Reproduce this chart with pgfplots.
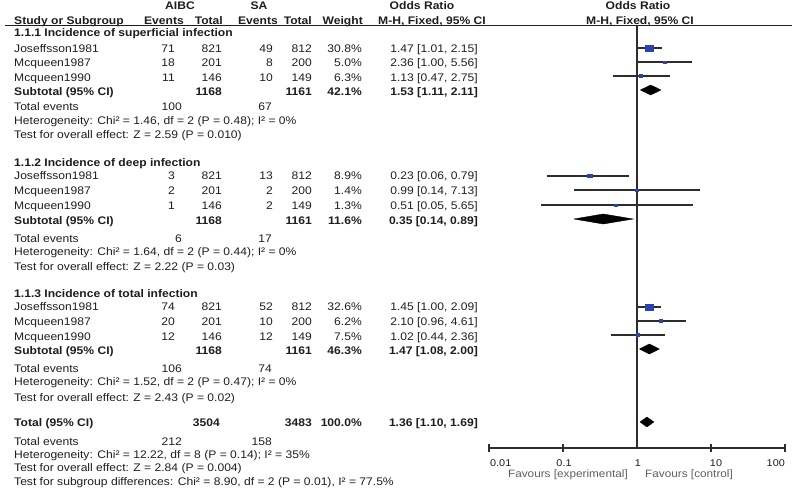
\documentclass[border=0pt]{standalone}
\usepackage{pgfplots}
\pgfplotsset{compat=1.18}
\usepackage{fontspec}
\setmainfont{Liberation Sans}[FakeStretch=1.1]
\definecolor{txt}{RGB}{30,30,30}
\definecolor{sq}{RGB}{45,65,175}
\definecolor{ln}{RGB}{45,45,45}
\definecolor{fav}{RGB}{95,95,95}

\newcommand{\TL}[3]{\node[anchor=base west,inner sep=0pt] at (#1,{-(#2)-4}) {#3};}
\newcommand{\TR}[3]{\node[anchor=base east,inner sep=0pt] at (#1,{-(#2)-4}) {#3};}
\newcommand{\TC}[3]{\node[anchor=base,inner sep=0pt] at (#1,{-(#2)-4}) {#3};}
% y name e1 t1 e2 t2 weight or
\newcommand{\Row}[8]{\TL{14}{#1}{#2}\TR{175}{#1}{#3}\TR{222}{#1}{#4}\TR{273}{#1}{#5}\TR{312}{#1}{#6}\TR{362}{#1}{#7}\TR{478}{#1}{#8}}
\newcommand{\Sub}[6]{\TL{14}{#1}{\bfseries #2}\TR{222}{#1}{\bfseries #3}\TR{312}{#1}{\bfseries #4}\TR{362}{#1}{\bfseries #5}\TR{478}{#1}{\bfseries #6}}
\newcommand{\Tev}[3]{\TL{14}{#1}{Total events}\TR{182}{#1}{#2}\TR{272}{#1}{#3}}

% plot helpers (values through the axis)
\newcommand{\CI}[3]{\addplot[ln, line width=1.1pt] coordinates {(#1,-#3) (#2,-#3)};}
\newcommand{\SQ}[3]{\addplot[only marks, mark=square*, mark size=#3, mark options={fill=sq,draw=sq,xscale=1.3}] coordinates {(#1,-#2)};}
% or lo hi y ytop ybot (negative numbers given)
\newcommand{\DM}[6]{\addplot[fill=black,draw=black] coordinates {(#2,#4) (#1,#5) (#3,#4) (#1,#6) (#2,#4)};}

\begin{document}
\begin{tikzpicture}[x=1pt,y=1pt,font=\fontsize{11}{12}\selectfont,text=txt]
\useasboundingbox (0,0) rectangle (800,-489);

% headers
\TC{180}{6}{\bfseries AIBC}
\TC{259}{6}{\bfseries SA}
\TC{422}{6}{\bfseries Odds Ratio}
\TC{638}{6}{\bfseries Odds Ratio}
\TL{14}{21}{\bfseries Study or Subgroup}
\TR{184}{21}{\bfseries Events}
\TR{223}{21}{\bfseries Total}
\TR{278}{21}{\bfseries Events}
\TR{312}{21}{\bfseries Total}
\TR{363}{21}{\bfseries Weight}
\TC{432}{21}{\bfseries M-H, Fixed, 95\% CI}
\TC{640}{21}{\bfseries M-H, Fixed, 95\% CI}
\draw[line width=0.9pt, txt] (5,-25) -- (792,-25);

% section 1
\TL{14}{33}{\bfseries 1.1.1 Incidence of superficial infection}
\Row{49}{Joseffsson1981}{71}{821}{49}{812}{30.8\%}{1.47 [1.01, 2.15]}
\Row{63}{Mcqueen1987}{18}{201}{8}{200}{5.0\%}{2.36 [1.00, 5.56]}
\Row{78}{Mcqueen1990}{11}{146}{10}{149}{6.3\%}{1.13 [0.47, 2.75]}
\Sub{92}{Subtotal (95\% CI)}{1168}{1161}{42.1\%}{1.53 [1.11, 2.11]}
\Tev{107}{100}{67}
\TL{14}{121}{Heterogeneity: Chi² = 1.46, df = 2 (P = 0.48); I² = 0\%}
\TL{14}{135}{Test for overall effect: Z = 2.59 (P = 0.010)}

% section 2
\TL{14}{163}{\bfseries 1.1.2 Incidence of deep infection}
\Row{176}{Joseffsson1981}{3}{821}{13}{812}{8.9\%}{0.23 [0.06, 0.79]}
\Row{191}{Mcqueen1987}{2}{201}{2}{200}{1.4\%}{0.99 [0.14, 7.13]}
\Row{206}{Mcqueen1990}{1}{146}{2}{149}{1.3\%}{0.51 [0.05, 5.65]}
\Sub{220}{Subtotal (95\% CI)}{1168}{1161}{11.6\%}{0.35 [0.14, 0.89]}
\Tev{238}{6}{17}
\TL{14}{251}{Heterogeneity: Chi² = 1.64, df = 2 (P = 0.44); I² = 0\%}
\TL{14}{266}{Test for overall effect: Z = 2.22 (P = 0.03)}

% section 3
\TL{14}{293}{\bfseries 1.1.3 Incidence of total infection}
\Row{306}{Joseffsson1981}{74}{821}{52}{812}{32.6\%}{1.45 [1.00, 2.09]}
\Row{321}{Mcqueen1987}{20}{201}{10}{200}{6.2\%}{2.10 [0.96, 4.61]}
\Row{336}{Mcqueen1990}{12}{146}{12}{149}{7.5\%}{1.02 [0.44, 2.36]}
\Sub{350}{Subtotal (95\% CI)}{1168}{1161}{46.3\%}{1.47 [1.08, 2.00]}
\Tev{368}{106}{74}
\TL{14}{381}{Heterogeneity: Chi² = 1.52, df = 2 (P = 0.47); I² = 0\%}
\TL{14}{397}{Test for overall effect: Z = 2.43 (P = 0.02)}

% total
\TL{14}{422}{\bfseries Total (95\% CI)}
\TR{220}{422}{\bfseries 3504}
\TR{312}{422}{\bfseries 3483}
\TR{362}{422}{\bfseries 100.0\%}
\TR{478}{422}{\bfseries 1.36 [1.10, 1.69]}
\Tev{441}{212}{158}
\TL{14}{454}{Heterogeneity: Chi² = 12.22, df = 8 (P = 0.14); I² = 35\%}
\TL{14}{467}{Test for overall effect: Z = 2.84 (P = 0.004)}
\TL{14}{481}{Test for subgroup differences: Chi² = 8.90, df = 2 (P = 0.01), I² = 77.5\%}

\begin{axis}[
  at={(489pt,-448pt)}, anchor=south west,
  scale only axis, width=296pt, height=423pt,
  xmode=log, xmin=0.01, xmax=100, ymin=-448, ymax=-25,
  hide axis, clip=false]
% reference line at 1
\addplot[ln, line width=1.1pt] coordinates {(1,-25) (1,-448)};
% x axis line and ticks
\addplot[ln, line width=1.3pt] coordinates {(0.01,-448) (100,-448)};
\addplot[ln, line width=1.3pt] coordinates {(0.01,-444) (0.01,-452)};
\addplot[ln, line width=1.3pt] coordinates {(0.1,-444) (0.1,-452)};
\addplot[ln, line width=1.3pt] coordinates {(10,-444) (10,-452)};
\addplot[ln, line width=1.3pt] coordinates {(100,-444) (100,-452)};
% section 1
\CI{1.01}{2.15}{48} \SQ{1.47}{48}{3.0}
\CI{1.00}{5.56}{62} \SQ{2.36}{62}{1.2}
\CI{0.47}{2.75}{76} \SQ{1.13}{76}{1.35}
\DM{1.53}{1.11}{2.11}{-90}{-85}{-95}
% section 2
\CI{0.06}{0.79}{176} \SQ{0.23}{176}{1.6}
\CI{0.14}{7.13}{190} \SQ{0.99}{190}{1.1}
\CI{0.05}{5.65}{205} \SQ{0.51}{205}{1.1}
\DM{0.35}{0.14}{0.89}{-219}{-214}{-224}
% section 3
\CI{1.00}{2.09}{307} \SQ{1.45}{307}{3.1}
\CI{0.96}{4.61}{321} \SQ{2.10}{321}{1.35}
\CI{0.44}{2.36}{335} \SQ{1.02}{335}{1.45}
\DM{1.47}{1.08}{2.00}{-349}{-344}{-354}
% total
\DM{1.36}{1.10}{1.69}{-422}{-417}{-427}
\end{axis}

% tick labels
\begin{scope}[font=\fontsize{9.85}{11}\selectfont]
\node[anchor=base west,inner sep=0pt] at (490,-466) {0.01};
\node[anchor=base,inner sep=0pt] at (564,-466) {0.1};
\node[anchor=base,inner sep=0pt] at (638,-466) {1};
\node[anchor=base,inner sep=0pt] at (716,-466) {10};
\node[anchor=base east,inner sep=0pt] at (785,-466) {100};
\end{scope}
\begin{scope}[font=\fontsize{10.7}{12}\selectfont]
\node[anchor=base east,inner sep=0pt,text=fav] at (628,-477) {Favours [experimental]};
\node[anchor=base west,inner sep=0pt,text=fav] at (645,-477) {Favours [control]};
\end{scope}
\end{tikzpicture}
\end{document}
